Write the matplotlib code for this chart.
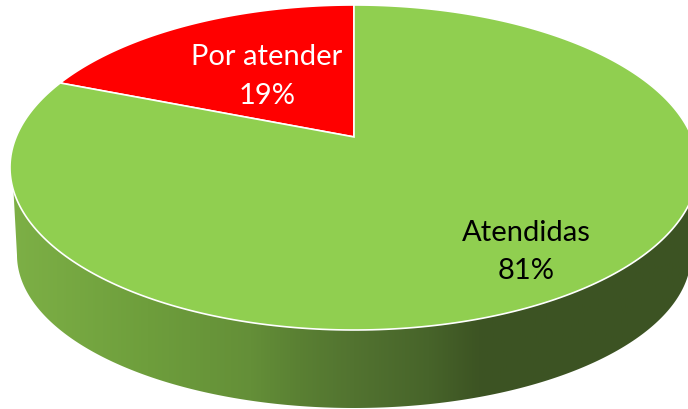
import numpy as np
import matplotlib.pyplot as plt
from matplotlib.colors import LinearSegmentedColormap
from matplotlib.patches import Polygon

labels = ['Por atender', 'Atendidas']
values = [19, 81]
percent_labels = ['19%', '81%']
slice_colors = ['#FF0000', '#90CF50']
text_colors = ['white', 'black']

W, H = 688, 409

# top face: ellipse + perspective shift of the centre
CX, CY, A, B = 354, 167.5, 344, 162.5
K = 0.188
# lower rim of the side wall
LOW_CX, LOW_CY, LOW_A, LOW_B = 354, 255, 337, 153


def project(angle):
    """Angle in radians, clockwise from 12 o'clock, to pixel coordinates on the top face"""
    u, v = np.sin(angle), np.cos(angle)
    d = 1 + K * v
    return CX + A * u * np.sqrt(1 - K ** 2) / d, CY - B * (v + K) / d


def wedge(start, stop):
    t = np.linspace(start, stop, 300)
    x, y = project(t)
    apex_x, apex_y = project(np.array([0.0]))[0], CY - B * K
    return np.column_stack([np.r_[apex_x, x], np.r_[apex_y, y]])


fig = plt.figure(figsize=(W / 100, H / 100), dpi=100)
ax = fig.add_axes([0, 0, 1, 1])
ax.set_xlim(0, W)
ax.set_ylim(H, 0)
ax.axis('off')

# side wall, gradient clipped to the outline
t = np.linspace(np.pi * 0.5, np.pi * 1.5, 400)
top_x, top_y = CX + A * np.sin(t), CY - B * np.cos(t)
keep = ~((top_x < CX) & (top_y < 190))
low_t = np.linspace(np.pi * 1.5, np.pi * 0.5, 400)
low_x, low_y = LOW_CX + LOW_A * np.sin(low_t), LOW_CY - LOW_B * np.cos(low_t)
outline = np.column_stack([np.r_[top_x[keep], low_x], np.r_[top_y[keep], low_y]])

cmap = LinearSegmentedColormap.from_list('side', [
    (0.00, '#7DB046'), (0.20, '#6E9E3C'), (0.35, '#648F38'), (0.42, '#5A8033'),
    (0.50, '#527330'), (0.61, '#47642A'), (0.68, '#3D5423'), (1.00, '#3C5323')])
im = ax.imshow(np.linspace(0, 1, 256)[None, :], cmap=cmap, aspect='auto',
               extent=(10, 698, H, 0), zorder=1)
im.set_clip_path(Polygon(outline, closed=True, transform=ax.transData))
ax.set_xlim(0, W)
ax.set_ylim(H, 0)

# top face, slices go counter clockwise from 12 o'clock starting with the red one
fractions = np.array(values) / sum(values) * 2 * np.pi
stop = 2 * np.pi
for frac, color in zip(fractions, slice_colors):
    ax.add_patch(Polygon(wedge(stop - frac, stop), closed=True, facecolor=color,
                         edgecolor='white', linewidth=1.2, zorder=2))
    stop -= frac

font = dict(family='Lato', fontsize=21, ha='center', va='center', zorder=3)
ax.text(267, 57, labels[0], color=text_colors[0], **font)
ax.text(267, 96, percent_labels[0], color=text_colors[0], **font)
ax.text(526, 233, labels[1], color=text_colors[1], **font)
ax.text(526, 271, percent_labels[1], color=text_colors[1], **font)

fig.savefig('out.png', dpi=100)
